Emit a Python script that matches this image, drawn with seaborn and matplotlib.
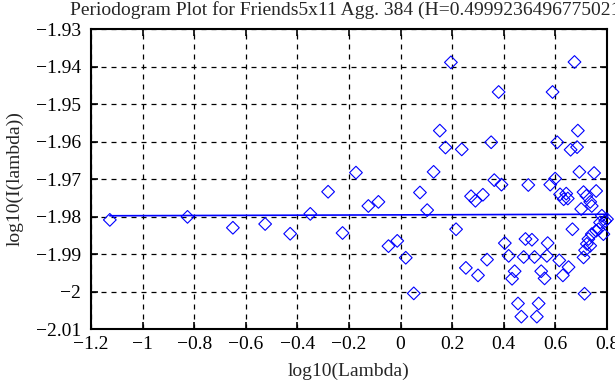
import numpy as np
import pandas as pd
import matplotlib
matplotlib.use("Agg")
import matplotlib.pyplot as plt
import seaborn as sns

# periodogram points
log_lambda = [-1.127, -0.826, -0.650, -0.525, -0.428, -0.350, -0.281, -0.225,
              -0.173, -0.125, -0.086, -0.047, -0.013, 0.020, 0.051, 0.075,
              0.103, 0.128, 0.152, 0.174, 0.195, 0.215, 0.237, 0.253,
              0.273, 0.290, 0.300, 0.319, 0.335, 0.351, 0.363, 0.380,
              0.391, 0.404, 0.419, 0.432, 0.442, 0.455, 0.468, 0.477,
              0.484, 0.495, 0.509, 0.519, 0.528, 0.535, 0.545, 0.558,
              0.570, 0.567, 0.580, 0.589, 0.599, 0.607, 0.615, 0.618,
              0.629, 0.632, 0.642, 0.648, 0.651, 0.659, 0.666, 0.674,
              0.684, 0.687, 0.693, 0.700, 0.709, 0.709, 0.713, 0.715,
              0.720, 0.722, 0.728, 0.735, 0.735, 0.741, 0.741, 0.750,
              0.758, 0.758, 0.767, 0.773, 0.780, 0.786, 0.793, 0.800]
log_I = [-1.9809, -1.9801, -1.9830, -1.9820, -1.9846, -1.9793, -1.9734, -1.9844,
         -1.9683, -1.9772, -1.9761, -1.9879, -1.9865, -1.9910, -2.0005, -1.9736,
         -1.9783, -1.9681, -1.9571, -1.9616, -1.9389, -1.9834, -1.9621, -1.9937,
         -1.9746, -1.9758, -1.9957, -1.9742, -1.9915, -1.9602, -1.9703, -1.9468,
         -1.9715, -1.9871, -1.9905, -1.9966, -1.9946, -2.0032, -2.0067, -1.9908,
         -1.9860, -1.9716, -1.9862, -1.9908, -2.0067, -2.0032, -1.9946, -1.9965,
         -1.9871, -1.9905, -1.9715, -1.9468, -1.9699, -1.9602, -1.9917, -1.9741,
         -1.9957, -1.9754, -1.9739, -1.9752, -1.9935, -1.9622, -1.9834, -1.9388,
         -1.9615, -1.9571, -1.9681, -1.9780, -1.9909, -1.9735, -2.0006, -1.9890,
         -1.9745, -1.9873, -1.9860, -1.9761, -1.9878, -1.9772, -1.9847, -1.9684,
         -1.9732, -1.9838, -1.9834, -1.9816, -1.9798, -1.9847, -1.9812, -1.9807]

# fitted line end points
fit_x = [-1.127, 0.800]
fit_y = [-1.9798, -1.9794]

title = "Periodogram Plot for Friends5x11 Agg. 384 (H=0.4999236496775021)"
xtick_labels = ['\u22121.2', '\u22121', '\u22120.8', '\u22120.6', '\u22120.4',
                '\u22120.2', '0', '0.2', '0.4', '0.6', '0.8']
ytick_labels = ['\u22122.01', '\u22122', '\u22121.99', '\u22121.98', '\u22121.97',
                '\u22121.96', '\u22121.95', '\u22121.94', '\u22121.93']

sns.set_theme(style="ticks")
plt.rcParams['font.family'] = ['Liberation Serif', 'DejaVu Serif']
plt.rcParams['xtick.direction'] = 'in'
plt.rcParams['ytick.direction'] = 'in'

FS = 14

df = pd.DataFrame({'x': log_lambda, 'y': log_I})
fit_df = pd.DataFrame({'x': fit_x, 'y': fit_y})

fig = plt.figure(figsize=(6.15, 3.85), dpi=100)
ax = fig.add_axes([91/615, 1 - 329/385, 516/615, 300/385])

ax.grid(True, color='black', linestyle=(0, (4, 4)), linewidth=0.9)
ax.set_axisbelow(True)

sns.lineplot(data=fit_df, x='x', y='y', ax=ax, color='blue', linewidth=1.2)
sns.scatterplot(data=df, x='x', y='y', ax=ax, marker='D', s=42,
                facecolors='none', edgecolor='blue', linewidth=0.8,
                clip_on=False, zorder=3)

ax.set_xlim(-1.2, 0.8)
ax.set_ylim(-2.01, -1.93)
ax.set_xticks(np.arange(-1.2, 0.81, 0.2))
ax.set_xticklabels(xtick_labels)
ax.set_yticks(np.arange(-2.01, -1.929, 0.01))
ax.set_yticklabels(ytick_labels)
ax.tick_params(axis='both', which='major', labelsize=FS, length=5, width=1.2,
               top=True, right=True, colors='black')
ax.tick_params(axis='y', pad=7)
ax.tick_params(axis='x', pad=5)
for sp in ax.spines.values():
    sp.set_visible(True)
    sp.set_color('black')
    sp.set_linewidth(1.5)

ax.set_xlabel("log10(Lambda)", fontsize=FS, labelpad=7)
ax.set_ylabel("log10(I(lambda))", fontsize=FS, labelpad=9)
fig.text(70/615, 1 - 1/385, title, fontsize=FS, ha='left', va='top')

fig.savefig("out.png", dpi=100)
